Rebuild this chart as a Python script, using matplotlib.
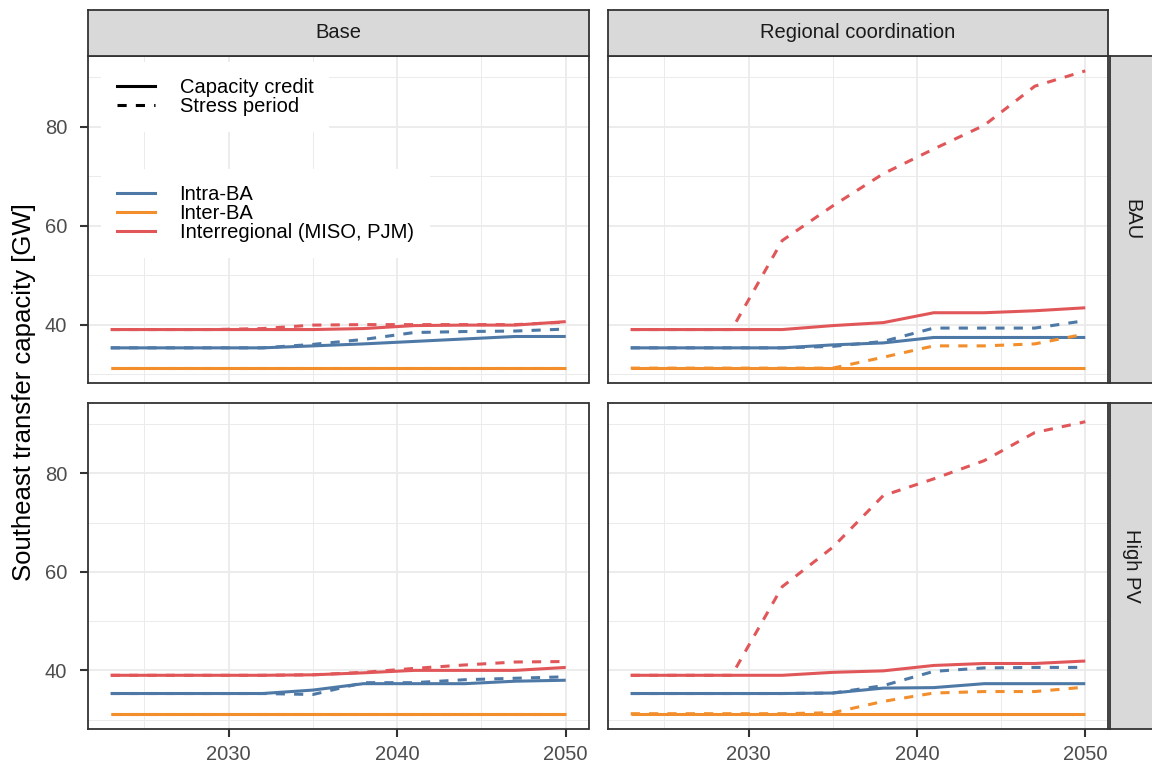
"""Southeast transfer capacity facet chart"""
import matplotlib
matplotlib.use("Agg")
import matplotlib.pyplot as plt
from matplotlib.lines import Line2D

plt.rcParams["font.family"] = ["Liberation Sans", "DejaVu Sans"]

YEARS = [2023, 2026, 2029, 2032, 2035, 2038, 2041, 2044, 2047, 2050]

COLUMNS = ["Base", "Regional coordination"]
ROWS = ["BAU", "High PV"]
SERIES = ["Intra-BA", "Inter-BA", "Interregional (MISO, PJM)"]
METRICS = ["Capacity credit", "Stress period"]

# Base / BAU
base_bau_intra_cc = [35.3, 35.3, 35.3, 35.3, 35.7, 36.1, 36.6, 37.1, 37.6, 37.6]
base_bau_intra_sp = [35.3, 35.3, 35.3, 35.3, 36.0, 37.0, 38.4, 38.6, 38.7, 39.1]
base_bau_inter_cc = [31.2, 31.2, 31.2, 31.2, 31.2, 31.2, 31.2, 31.2, 31.2, 31.2]
base_bau_inter_sp = [31.2, 31.2, 31.2, 31.2, 31.2, 31.2, 31.2, 31.2, 31.2, 31.2]
base_bau_reg_cc = [39.0, 39.0, 39.0, 39.0, 39.0, 39.2, 39.8, 39.9, 39.9, 40.6]
base_bau_reg_sp = [39.0, 39.0, 39.0, 39.2, 39.9, 40.0, 40.0, 40.0, 40.0, 40.5]

# Regional coordination / BAU
coord_bau_intra_cc = [35.3, 35.3, 35.3, 35.3, 35.9, 36.3, 37.4, 37.4, 37.4, 37.4]
coord_bau_intra_sp = [35.3, 35.3, 35.3, 35.3, 35.6, 36.6, 39.3, 39.3, 39.3, 40.8]
coord_bau_inter_cc = [31.2, 31.2, 31.2, 31.2, 31.2, 31.2, 31.2, 31.2, 31.2, 31.2]
coord_bau_inter_sp = [31.2, 31.2, 31.2, 31.2, 31.2, 33.4, 35.7, 35.7, 36.1, 38.1]
coord_bau_reg_cc = [39.0, 39.0, 39.0, 39.0, 39.8, 40.4, 42.4, 42.4, 42.8, 43.4]
coord_bau_reg_sp = [39.0, 39.0, 39.0, 57.0, 64.0, 70.5, 75.5, 80.3, 88.2, 91.3]

# Base / High PV
base_pv_intra_cc = [35.3, 35.3, 35.3, 35.3, 36.0, 37.3, 37.3, 37.3, 37.8, 38.0]
base_pv_intra_sp = [35.3, 35.3, 35.3, 35.3, 35.1, 37.5, 37.5, 38.1, 38.4, 38.7]
base_pv_inter_cc = [31.2, 31.2, 31.2, 31.2, 31.2, 31.2, 31.2, 31.2, 31.2, 31.2]
base_pv_inter_sp = [31.2, 31.2, 31.2, 31.2, 31.2, 31.2, 31.2, 31.2, 31.2, 31.2]
base_pv_reg_cc = [39.0, 39.0, 39.0, 39.0, 39.1, 39.5, 40.0, 40.0, 40.0, 40.6]
base_pv_reg_sp = [39.0, 39.0, 39.0, 39.0, 39.1, 39.6, 40.4, 41.1, 41.7, 41.8]

# Regional coordination / High PV
coord_pv_intra_cc = [35.3, 35.3, 35.3, 35.3, 35.4, 36.4, 36.5, 37.3, 37.3, 37.3]
coord_pv_intra_sp = [35.3, 35.3, 35.3, 35.3, 35.4, 36.9, 39.8, 40.5, 40.6, 40.6]
coord_pv_inter_cc = [31.2, 31.2, 31.2, 31.2, 31.2, 31.2, 31.2, 31.2, 31.2, 31.2]
coord_pv_inter_sp = [31.2, 31.2, 31.2, 31.2, 31.4, 33.7, 35.4, 35.7, 35.7, 36.6]
coord_pv_reg_cc = [39.0, 39.0, 39.0, 39.0, 39.6, 39.9, 41.0, 41.4, 41.4, 41.9]
coord_pv_reg_sp = [39.0, 39.0, 39.0, 57.0, 65.0, 75.5, 78.9, 82.6, 88.3, 90.5]

COLORS = {"Intra-BA": "#4E79A7", "Inter-BA": "#F28E2B",
          "Interregional (MISO, PJM)": "#E15759"}

PANELS = {
    ("BAU", "Base"): [base_bau_intra_cc, base_bau_intra_sp, base_bau_inter_cc,
                      base_bau_inter_sp, base_bau_reg_cc, base_bau_reg_sp],
    ("BAU", "Regional coordination"): [coord_bau_intra_cc, coord_bau_intra_sp, coord_bau_inter_cc,
                                       coord_bau_inter_sp, coord_bau_reg_cc, coord_bau_reg_sp],
    ("High PV", "Base"): [base_pv_intra_cc, base_pv_intra_sp, base_pv_inter_cc,
                          base_pv_inter_sp, base_pv_reg_cc, base_pv_reg_sp],
    ("High PV", "Regional coordination"): [coord_pv_intra_cc, coord_pv_intra_sp, coord_pv_inter_cc,
                                           coord_pv_inter_sp, coord_pv_reg_cc, coord_pv_reg_sp],
}

W, H = 1152, 763
FS = 14.5
LW = 2.2
GRID = "#EBEBEB"
DARK = "#333333"
DASHES = (3.0, 3.0)


def rect(x0, y0, x1, y1):
    return [x0 / W, 1 - y1 / H, (x1 - x0) / W, (y1 - y0) / H]


# 공유 축 범위 (ggplot 기본 5% 확장)
all_vals = [v for series in PANELS.values() for s in series for v in s]
ylo, yhi = min(all_vals), max(all_vals)
ypad = 0.05 * (yhi - ylo)
xpad = 0.05 * (YEARS[-1] - YEARS[0])

fig = plt.figure(figsize=(W / 100, H / 100), dpi=100)
fig.patch.set_facecolor("white")

col_x = [(88, 588.5), (608, 1108)]
row_y = [(56, 383), (403, 728.5)]

axes = {}
for r, row in enumerate(ROWS):
    for c, col in enumerate(COLUMNS):
        x0, x1 = col_x[c]
        y0, y1 = row_y[r]
        ax = fig.add_axes(rect(x0, y0, x1, y1))
        axes[(row, col)] = ax
        data = PANELS[(row, col)]
        for i, name in enumerate(SERIES):
            ax.plot(YEARS, data[2 * i], color=COLORS[name], lw=LW,
                    solid_capstyle="butt", zorder=3)
            ax.plot(YEARS, data[2 * i + 1], color=COLORS[name], lw=LW,
                    linestyle=(0, DASHES), dash_capstyle="butt", zorder=3)

        ax.set_xlim(YEARS[0] - xpad, YEARS[-1] + xpad)
        ax.set_ylim(ylo - ypad, yhi + ypad)
        ax.set_xticks([2030, 2040, 2050])
        ax.set_xticks([2025, 2035, 2045], minor=True)
        ax.set_yticks([40, 60, 80])
        ax.set_yticks([30, 50, 70, 90], minor=True)
        ax.grid(which="major", color=GRID, lw=1.3, zorder=0)
        ax.grid(which="minor", color=GRID, lw=0.7, zorder=0)
        ax.set_axisbelow(True)
        for sp in ax.spines.values():
            sp.set_color(DARK)
            sp.set_linewidth(1.3)
        ax.tick_params(which="minor", length=0)
        ax.tick_params(which="major", length=6, width=1.5, color=DARK,
                       labelsize=FS, labelcolor="#4D4D4D")
        ax.tick_params(axis="y", pad=9)
        ax.tick_params(axis="x", pad=6)
        if c != 0:
            ax.tick_params(axis="y", length=0, labelleft=False)
        if r != len(ROWS) - 1:
            ax.tick_params(axis="x", length=0, labelbottom=False)

        # 상단 스트립
        if r == 0:
            sx = fig.add_axes(rect(x0, 10, x1, y0))
            sx.set_facecolor("#D9D9D9")
            sx.set_xticks([])
            sx.set_yticks([])
            for sp in sx.spines.values():
                sp.set_color(DARK)
                sp.set_linewidth(1.3)
            sx.text(0.5, 0.5, col, ha="center", va="center", fontsize=FS,
                    color="#1A1A1A", transform=sx.transAxes)

        # 오른쪽 스트립
        if c == len(COLUMNS) - 1:
            sy = fig.add_axes(rect(1110, y0, 1170, y1))
            sy.set_facecolor("#D9D9D9")
            sy.set_xticks([])
            sy.set_yticks([])
            for sp in sy.spines.values():
                sp.set_color(DARK)
                sp.set_linewidth(1.3)
            sy.text((1132 - 1110) / 60, 0.5, row, ha="center", va="center",
                    fontsize=FS, rotation=-90, color="#1A1A1A",
                    transform=sy.transAxes)

fig.text(24 / W, 1 - 392 / H, "Southeast transfer capacity [GW]", rotation=90,
         ha="center", va="center", fontsize=18.5, color="black")

# 범례 (좌상단 패널 내부)
ax0 = axes[("BAU", "Base")]
lt_handles = [Line2D([], [], color="black", lw=LW),
              Line2D([], [], color="black", lw=LW, linestyle=(0, DASHES))]
leg_kw = dict(loc="upper left", fontsize=FS, frameon=True, facecolor="white",
              edgecolor="none", framealpha=1, fancybox=False, borderpad=0.8,
              labelspacing=0.0, handlelength=1.9, handletextpad=1.2,
              handleheight=0.7, borderaxespad=0)
leg1 = ax0.legend(lt_handles, METRICS, bbox_to_anchor=(0.026, 0.983), **leg_kw)
ax0.add_artist(leg1)
col_handles = [Line2D([], [], color=COLORS[s], lw=LW) for s in SERIES]
ax0.legend(col_handles, SERIES, bbox_to_anchor=(0.026, 0.655), **leg_kw)

fig.savefig("out.png", dpi=100)
plt.close(fig)
